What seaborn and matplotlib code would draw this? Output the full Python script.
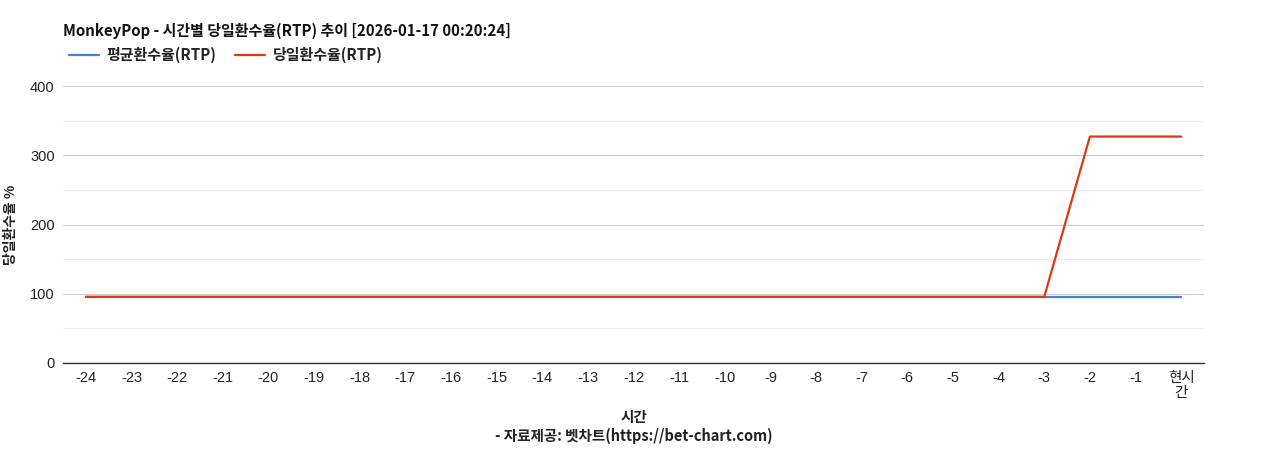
import pandas as pd
import seaborn as sns
import matplotlib.pyplot as plt
from matplotlib.ticker import MultipleLocator

# 데이터
hours = ['-24', '-23', '-22', '-21', '-20', '-19', '-18', '-17', '-16', '-15', '-14', '-13',
         '-12', '-11', '-10', '-9', '-8', '-7', '-6', '-5', '-4', '-3', '-2', '-1', '현시\n간']
avg_rtp = [95.6] * 25
daily_rtp = [95.6] * 22 + [327, 327, 327]

title = 'MonkeyPop - 시간별 당일환수율(RTP) 추이 [2026-01-17 00:20:24]'
avg_name = '평균환수율(RTP)'
daily_name = '당일환수율(RTP)'

sns.set_style('white')
plt.rcParams['font.family'] = ['Noto Sans CJK KR', 'DejaVu Sans']
tick_fam = ['Liberation Sans', 'Noto Sans CJK KR']

df = pd.DataFrame({'pos': range(len(hours)), 'avg': avg_rtp, 'daily': daily_rtp})

fig = plt.figure(figsize=(12.68, 4.5), dpi=100)
ax = fig.add_axes([63/1268, 1-363/450, (1204-63)/1268, (363-86)/450])

sns.lineplot(x='pos', y='avg', data=df, ax=ax, color='#4a7bd6', linewidth=1.6, label=avg_name)
sns.lineplot(x='pos', y='daily', data=df, ax=ax, color='#dc3912', linewidth=1.6, label=daily_name)

ax.set_xlim(-0.5, len(hours) - 0.5)
ax.set_ylim(0, 400)
ax.yaxis.set_major_locator(MultipleLocator(100))
ax.yaxis.set_minor_locator(MultipleLocator(50))
ax.grid(which='major', axis='y', color='#cccccc', linewidth=0.8)
ax.grid(which='minor', axis='y', color='#ebebeb', linewidth=0.8)
ax.set_axisbelow(True)
for s in ['top', 'right', 'left']:
    ax.spines[s].set_visible(False)
ax.spines['bottom'].set_color('#333333')
ax.spines['bottom'].set_linewidth(1)
ax.set_xticks(range(len(hours)))
ax.set_xticklabels(hours, linespacing=1.1)
ax.tick_params(axis='both', length=0, labelsize=10.5, colors='#222222', pad=6)
for t in ax.get_xticklabels() + ax.get_yticklabels():
    t.set_family(tick_fam)

ax.set_ylabel('당일환수율 %', fontsize=10, fontweight='bold', color='#222222')
ax.yaxis.set_label_coords(-45/1141, 0.5)
ax.set_xlabel('시간\n- 자료제공: 벳차트(https://bet-chart.com)', fontsize=10.5,
              fontweight='bold', color='#222222', linespacing=1.25, labelpad=6)

fig.text(63/1268, 1-31/450, title, fontsize=10.8, fontweight='bold', color='#111111',
         va='center', ha='left')

ax.get_legend().remove()
handles, labels = ax.get_legend_handles_labels()
leg = fig.legend(handles, labels, loc='center left', bbox_to_anchor=(55/1268, 1-55/450),
                 ncol=2, frameon=False, handlelength=2.0, handletextpad=0.5,
                 columnspacing=1.3, fontsize=10.8)
for t in leg.get_texts():
    t.set_fontweight('bold')
    t.set_color('#222222')

fig.savefig('out.png', dpi=100)
